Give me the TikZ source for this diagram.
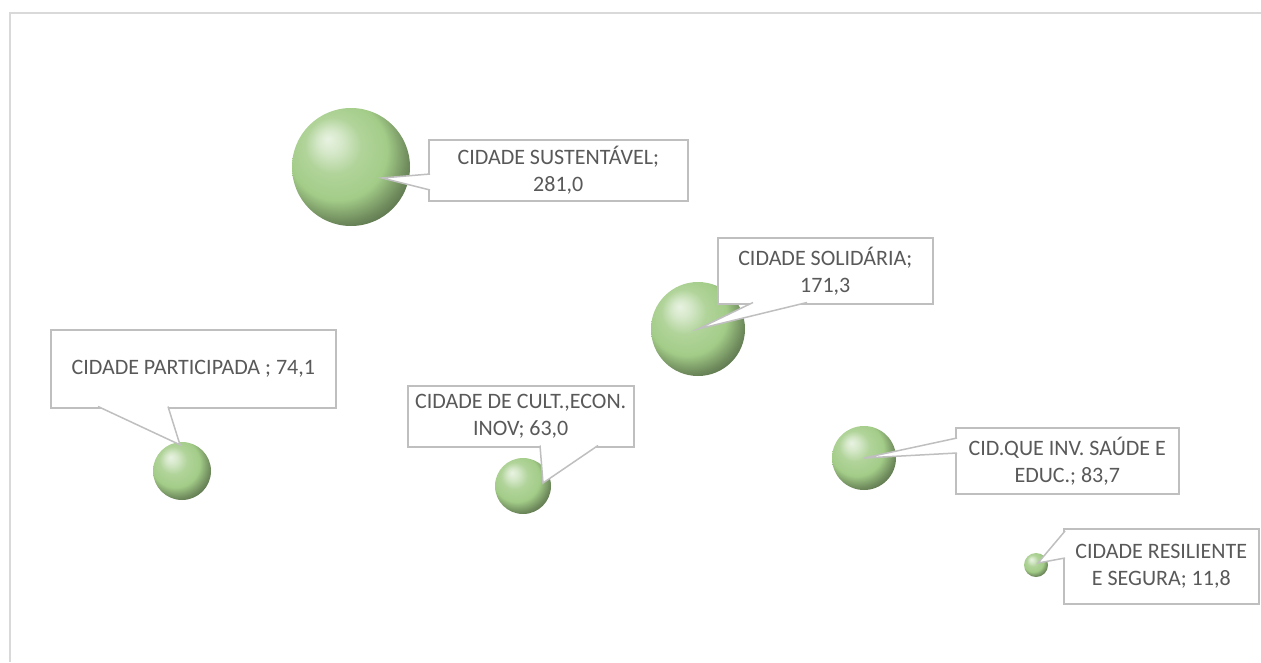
\documentclass[tikz,border=0pt]{standalone}
\usepackage{fontspec}
\setmainfont{Carlito}
\usetikzlibrary{calc}

\definecolor{sphgreen}{RGB}{163,204,136}
\definecolor{boxgray}{RGB}{191,191,191}
\definecolor{framegray}{RGB}{217,217,217}
\definecolor{txtgray}{RGB}{89,89,89}

\pgfdeclareradialshading{greenball}{\pgfpoint{-10bp}{12bp}}{%
  color(0bp)=(white!75!sphgreen); color(5bp)=(sphgreen!45!white);
  color(12bp)=(sphgreen!85!white); color(21bp)=(sphgreen);
  color(28bp)=(sphgreen!70!black); color(35bp)=(sphgreen!45!black);
  color(50bp)=(sphgreen!35!black)}

\begin{document}
\begin{tikzpicture}[x=1pt,y=-1pt,
  bubble/.style={circle,inner sep=0pt,shading=greenball},
  lbl/.style={draw=boxgray,line width=1.5pt,fill=white,anchor=north west,inner sep=0pt,
    align=center,text=txtgray,font=\fontsize{22}{27}\selectfont},
  tip/.style={draw=boxgray,line width=1.5pt,fill=white}]
\useasboundingbox (0,0) rectangle (1261,662);
\draw[framegray,line width=2pt] (1261,13) -- (10,13) -- (10,662);

% bubbles
\node[bubble,minimum size=118pt] (s1) at (351,167) {};
\node[bubble,minimum size=94pt] (s2) at (698,329) {};
\node[bubble,minimum size=58pt] (s3) at (182,471) {};
\node[bubble,minimum size=56pt] (s4) at (523,486) {};
\node[bubble,minimum size=64pt] (s5) at (864,458) {};
\node[bubble,minimum size=24pt] (s6) at (1036,565) {};

% data labels
\node[lbl,minimum width=259pt,minimum height=61pt] (l1) at (428,139) {CIDADE SUSTENTÁVEL;\\281,0};
\node[lbl,minimum width=215pt,minimum height=66pt] (l2) at (717,237) {CIDADE SOLIDÁRIA;\\171,3};
\node[lbl,minimum width=285pt,minimum height=78pt] (l3) at (50,329) {CIDADE PARTICIPADA ; 74,1};
\node[lbl,minimum width=226pt,minimum height=61pt] (l4) at (407,385) {CIDADE DE CULT.,ECON.\\INOV; 63,0};
\node[lbl,minimum width=223pt,minimum height=66pt] (l5) at (955,427) {CID.QUE INV. SAÚDE E\\EDUC.; 83,7};
\node[lbl,minimum width=195pt,minimum height=75pt] (l6) at (1063,528) {CIDADE RESILIENTE\\E SEGURA; 11,8};

% pointers
\filldraw[tip] ($(l1.north west)+(2,35)$) -- ($(s1.center)+(31,11)$) -- ($(l1.north west)+(2,51)$);
\filldraw[tip] ($(l2.south west)+(36,-2)$) -- (s2.center) -- ($(l2.south west)+(90,-2)$);
\filldraw[tip] ($(l3.south west)+(48,-2)$) -- ($(s3.north)+(-2,3)$) -- ($(l3.south west)+(118,-2)$);
\filldraw[tip] ($(l4.south west)+(133,-2)$) -- ($(s4.center)+(20,-3)$) -- ($(l4.south west)+(191,-2)$);
\filldraw[tip] ($(l5.north west)+(2,11)$) -- (s5.center) -- ($(l5.north west)+(2,26)$);
\filldraw[tip] ($(l6.north west)+(2,3)$) -- ($(s6.center)+(2,-2)$) -- ($(l6.north west)+(2,30)$);

\end{tikzpicture}
\end{document}
